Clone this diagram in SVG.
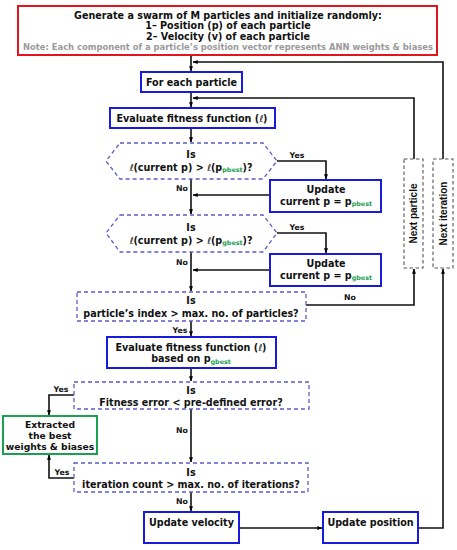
<svg xmlns="http://www.w3.org/2000/svg" width="457" height="550" viewBox="0 0 457 550">
<defs>
<marker id="ah" viewBox="0 0 8 8" refX="7.5" refY="4" markerWidth="5" markerHeight="5" orient="auto" markerUnits="userSpaceOnUse">
<path d="M0,0.8 L8,4 L0,7.2 Z" fill="#000"/>
</marker>
</defs>
<style>
text{font-family:"DejaVu Sans",Verdana,sans-serif;font-weight:bold;font-size:9.6px;fill:#111;text-anchor:middle}
.lbl{font-size:7.8px}
.note{fill:#9a9a9a;font-size:8.4px}
.sub{fill:#1aa050;font-size:6.4px}
.it{font-style:italic;font-weight:normal}
.gt{font-size:9.2px}
.red{fill:#fff;stroke:#e3141c;stroke-width:2}
.blue{fill:#fff;stroke:#1a1adc;stroke-width:2}
.green{fill:#fff;stroke:#1aa050;stroke-width:2}
.dec{fill:#fff;stroke:#5c5cc8;stroke-width:1.3;stroke-dasharray:4,3}
.nxt{fill:#fff;stroke:#555;stroke-width:1.1;stroke-dasharray:3.5,2.5}
.ln{fill:none;stroke:#111;stroke-width:1.6}
</style>
<rect width="457" height="550" fill="#fff"/>
<g id="connectors">
<path class="ln" d="M191,56 V71" marker-end="url(#ah)"/>
<path class="ln" d="M443,159 V62 H193" marker-end="url(#ah)"/>
<path class="ln" d="M191,92 V107" marker-end="url(#ah)"/>
<path class="ln" d="M414,159 V98 H193" marker-end="url(#ah)"/>
<path class="ln" d="M191,128 V142" marker-end="url(#ah)"/>
<path class="ln" d="M277,161 H326 V179" marker-end="url(#ah)"/>
<path class="ln" d="M191,179 V214" marker-end="url(#ah)"/>
<path class="ln" d="M270,195 H193" marker-end="url(#ah)"/>
<path class="ln" d="M277,233 H326 V253" marker-end="url(#ah)"/>
<path class="ln" d="M191,252 V291" marker-end="url(#ah)"/>
<path class="ln" d="M270,270 H193" marker-end="url(#ah)"/>
<path class="ln" d="M306,305 H414 V269" marker-end="url(#ah)"/>
<path class="ln" d="M191,321 V336" marker-end="url(#ah)"/>
<path class="ln" d="M191,368 V381" marker-end="url(#ah)"/>
<path class="ln" d="M74,395 H49 V415" marker-end="url(#ah)"/>
<path class="ln" d="M191,409 V462" marker-end="url(#ah)"/>
<path class="ln" d="M74,478 H49 V455" marker-end="url(#ah)"/>
<path class="ln" d="M191,492 V511" marker-end="url(#ah)"/>
<path class="ln" d="M239,528 H322" marker-end="url(#ah)"/>
<path class="ln" d="M418,528 H443 V269" marker-end="url(#ah)"/>
<text class="lbl" x="297" y="158">Yes</text>
<text class="lbl" x="182" y="191">No</text>
<text class="lbl" x="297" y="230">Yes</text>
<text class="lbl" x="182" y="265">No</text>
<text class="lbl" x="350" y="300">No</text>
<text class="lbl" x="180" y="333">Yes</text>
<text class="lbl" x="61" y="392">Yes</text>
<text class="lbl" x="182" y="433">No</text>
<text class="lbl" x="62" y="475">Yes</text>
<text class="lbl" x="182" y="504">No</text>
</g>
<g id="init">
<rect class="red" x="18" y="6" width="419" height="49"/>
<text x="228" y="18.5">Generate a swarm of M particles and initialize randomly:</text>
<text x="228" y="29">1– Position (p) of each particle</text>
<text x="228" y="39.5">2– Velocity (v) of each particle</text>
<text class="note" x="228" y="50">Note: Each component of a particle’s position vector represents ANN weights &amp; biases</text>
</g>
<g id="for-each">
<rect class="blue" x="141" y="72" width="101" height="20"/>
<text x="191.5" y="85.5">For each particle</text>
</g>
<g id="evaluate1">
<rect class="blue" x="110" y="108" width="165" height="20"/>
<text x="192" y="121.5">Evaluate fitness function (<tspan class="it">ℓ</tspan>)</text>
</g>
<g id="decision-pbest">
<polygon class="dec" points="120,143 263,143 277,161 263,179 120,179 106,161"/>
<text x="191" y="158">Is</text>
<text x="191" y="170.5"><tspan class="it">ℓ</tspan>(current p) &gt; <tspan class="it">ℓ</tspan>(p<tspan class="sub" dy="1.5">pbest</tspan><tspan dy="-1.5">)?</tspan></text>
</g>
<g id="update-pbest">
<rect class="blue" x="270" y="180" width="111" height="32"/>
<text x="326" y="192.5">Update</text>
<text x="326" y="204.5">current p = p<tspan class="sub" dy="1.5">pbest</tspan></text>
</g>
<g id="decision-gbest">
<polygon class="dec" points="120,215 263,215 277,233 263,252 120,252 106,233"/>
<text x="191" y="231">Is</text>
<text x="191" y="243.5"><tspan class="it">ℓ</tspan>(current p) &gt; <tspan class="it">ℓ</tspan>(p<tspan class="sub" dy="1.5">gbest</tspan><tspan dy="-1.5">)?</tspan></text>
</g>
<g id="update-gbest">
<rect class="blue" x="270" y="254" width="111" height="32"/>
<text x="326" y="266.5">Update</text>
<text x="326" y="278.5">current p = p<tspan class="sub" dy="1.5">gbest</tspan></text>
</g>
<g id="decision-index">
<rect class="dec" x="77" y="292" width="229" height="29"/>
<text x="191" y="304">Is</text>
<text x="191" y="316.5">particle’s index &gt; max. no. of particles?</text>
</g>
<g id="evaluate2">
<rect class="blue" x="107" y="337" width="169" height="31"/>
<text x="191" y="350.5">Evaluate fitness function (<tspan class="it">ℓ</tspan>)</text>
<text x="191" y="362">based on p<tspan class="sub" dy="1.5">gbest</tspan></text>
</g>
<g id="decision-error">
<rect class="dec" x="74" y="382" width="235" height="27"/>
<text x="191" y="394">Is</text>
<text x="191" y="405.5">Fitness error &lt; pre-defined error?</text>
</g>
<g id="extracted">
<rect class="green" x="3" y="416" width="94" height="38"/>
<text class="gt" x="50" y="428">Extracted</text>
<text class="gt" x="50" y="438.5">the best</text>
<text class="gt" x="50" y="449.5">weights &amp; biases</text>
</g>
<g id="decision-iteration">
<rect class="dec" x="74" y="463" width="234" height="29"/>
<text x="191" y="476">Is</text>
<text x="191" y="487.5">iteration count &gt; max. no. of iterations?</text>
</g>
<g id="update-velocity">
<rect class="blue" x="144" y="512" width="95" height="31"/>
<text x="191.5" y="526">Update velocity</text>
</g>
<g id="update-position">
<rect class="blue" x="323" y="512" width="95" height="31"/>
<text x="370.5" y="526">Update position</text>
</g>
<g id="next-particle">
<rect class="nxt" x="404" y="159" width="19" height="109"/>
<text transform="translate(417,213.5) rotate(-90)" style="font-family:'Liberation Sans',Arial,sans-serif;font-size:10px">Next particle</text>
</g>
<g id="next-iteration">
<rect class="nxt" x="433" y="159" width="20" height="109"/>
<text transform="translate(446.5,213.5) rotate(-90)" style="font-family:'Liberation Sans',Arial,sans-serif;font-size:10px">Next iteration</text>
</g>
</svg>
